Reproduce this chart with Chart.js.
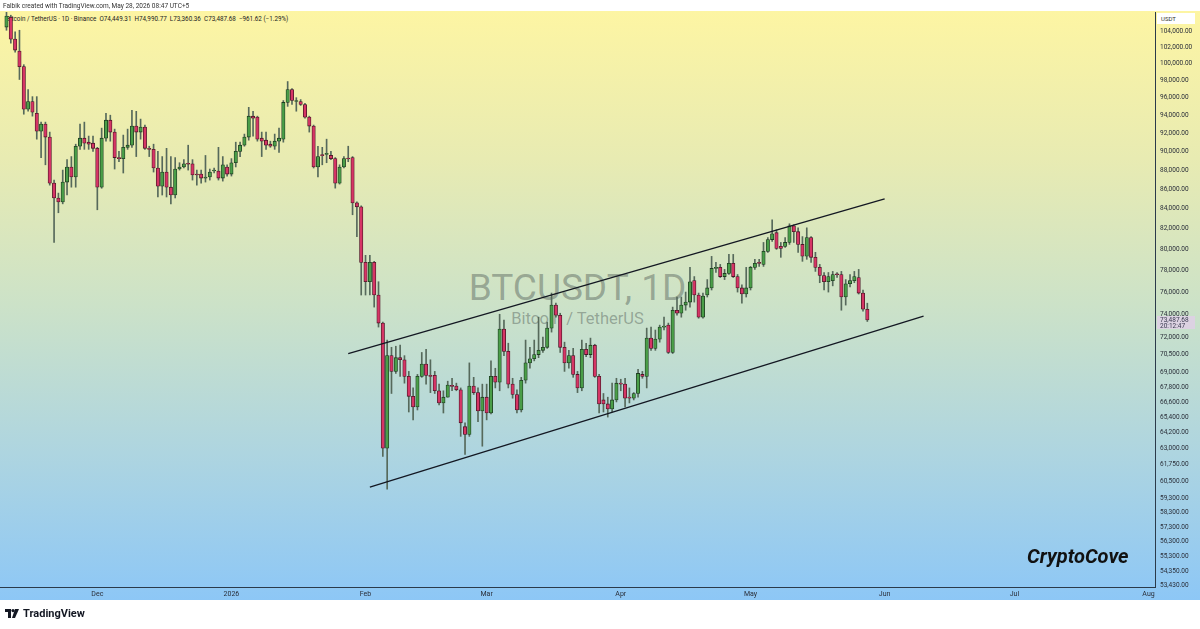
<!DOCTYPE html>
<html>
<head>
<meta charset="utf-8">
<title>BTCUSDT 1D</title>
<script src="https://cdn.jsdelivr.net/npm/chart.js@4.4.1/dist/chart.umd.min.js"></script>
<style>
  body { margin: 0; background: #fff; font-family: Roboto, "Noto Sans", sans-serif; }
  #wrap { position: relative; width: 1200px; height: 629px; overflow: hidden; background: #fff; }
  #bg { position: absolute; left: 0; top: 11px; width: 1200px; height: 589px;
        background: linear-gradient(to bottom, #fdf5a3 0%, #e8ebb2 25%, #cce2c8 50%, #aed5e0 75%, #8dc7f6 100%); }
  #chart { position: absolute; left: 0; top: 0; z-index: 3; }
  .txt { position: absolute; white-space: nowrap; line-height: 1; }
  #header { left: 3px; top: 3px; font-size: 6.5px; color: #333; z-index: 4; }
  #legend { left: 6px; top: 16px; font-size: 6.3px; color: #222; z-index: 1; }
  #wm1 { left: 0; width: 1155px; text-align: center; top: 269px; font-size: 37px; color: rgba(80, 92, 86, 0.45); z-index: 1; }
  #wm2 { left: 0; width: 1155px; text-align: center; top: 311px; font-size: 16.5px; color: rgba(80, 92, 86, 0.45); z-index: 1; }
  #brand { left: 1027px; top: 546px; font-size: 20px; font-weight: bold; font-style: italic; color: #111; z-index: 4; }
  #usdt { left: 1157px; top: 13px; width: 38px; height: 11px; background: #fff; font-size: 6px; color: #333; padding: 3px 0 0 4px; box-sizing: border-box; z-index: 4; }
  #lastp { left: 1157px; top: 316px; width: 38px; height: 13px; background: rgba(222, 208, 228, 0.9); z-index: 4; font-size: 6.5px; color: #3a3a50; padding: 1px 0 0 3px; box-sizing: border-box; line-height: 6px; }
  #logo { left: 5px; top: 608px; font-size: 11px; font-weight: bold; color: #131722; z-index: 4; display: flex; align-items: center; gap: 4px; }
</style>
</head>
<body>
<div id="wrap">
  <div id="bg"></div>
  <div class="txt" id="header">Falbik created with TradingView.com, May 28, 2026 08:47 UTC+5</div>
  <div class="txt" id="legend">Bitcoin / TetherUS · 1D · Binance &nbsp;O74,449.31 &nbsp;H74,990.77 &nbsp;L73,360.36 &nbsp;C73,487.68 &nbsp;−961.62 (−1.29%)</div>
  <div class="txt" id="wm1">BTCUSDT, 1D</div>
  <div class="txt" id="wm2">Bitcoin / TetherUS</div>
  <div class="txt" id="brand">CryptoCove</div>
  <div class="txt" id="usdt">USDT</div>
  <div class="txt" id="lastp">73,487.68<br>20:12:47</div>
  <div class="txt" id="logo">
    <svg width="14" height="9" viewBox="0 0 14 9"><rect x="0" y="0" width="6" height="3" fill="#131722"/><rect x="3" y="0" width="3" height="9" fill="#131722"/><circle cx="8" cy="1.6" r="1.6" fill="#131722"/><polygon points="10,0 14,0 10,9 7,9" fill="#131722"/></svg>
    <span>TradingView</span>
  </div>
  <canvas id="chart" width="1200" height="629"></canvas>
</div>
<script>
// Daily candles, first one on 2025-11-10 (index 1 of the time axis)
const startDay = '2025-11-09';
const dayCount = 267;
const firstCandle = 1;

const opens = [
  104500, 105750, 103000, 101530, 99650, 94670, 95560, 94220, 92220, 93000, 91560, 86630, 85100, 84700, 86740, 88330, 87270, 90560, 91440, 91000,
  90890, 90330, 86210, 91440, 93440, 92110, 89330, 89220, 90440, 90670, 92780, 92110, 92670, 90330, 90220, 88220, 86320, 87790, 86210, 85400,
  88110, 88330, 88670, 88670, 87580, 87580, 87160, 87270, 87900, 87900, 87160, 88330, 87580, 88780, 90000, 90670, 91560, 93890, 93780, 91440,
  91220, 90780, 90560, 91110, 91330, 95450, 96940, 95560, 95560, 95220, 93780, 92780, 88330, 89560, 89670, 89560, 89220, 86630, 88330, 89220,
  89330, 84600, 84200, 78760, 76950, 78760, 75730, 73220, 63000, 70410, 69090, 70240, 70060, 68680, 67050, 66200, 68680, 69710, 68760, 68760,
  67500, 66520, 66980, 67880, 67880, 67580, 64650, 64050, 67880, 67350, 65880, 66980, 65720, 68680, 68200, 72700, 70770, 68040, 67200, 65960,
  68360, 69800, 70150, 70500, 70860, 71120, 72780, 74820, 73910, 71120, 69800, 70410, 68840, 67730, 70940, 70500, 71300, 68680, 66760, 66440,
  66040, 66760, 68120, 68040, 66980, 66900, 67280, 68840, 68680, 71910, 71030, 71820, 72870, 73040, 70680, 74360, 74090, 74820, 75090, 77050,
  75730, 73740, 75730, 76380, 78190, 78290, 77430, 77720, 78670, 77430, 76380, 75820, 76380, 78290, 78760, 78570, 79810, 80950, 81620, 80290,
  80290, 80670, 82300, 81720, 80480, 79340, 81150, 79240, 78290, 77530, 76950, 77050, 77620, 77620, 75550, 76760, 77050, 77340, 75910, 74449.31
];
const highs = [
  106400, 106000, 103900, 104100, 99880, 96940, 96120, 96120, 93220, 93220, 92110, 86950, 85600, 88000, 89110, 89440, 90780, 93000, 93220, 91670,
  91670, 90440, 92550, 94220, 94000, 92440, 90000, 91780, 92440, 94560, 94440, 93560, 92890, 90560, 90780, 90000, 89440, 90330, 89440, 89330,
  88780, 89110, 90670, 89110, 88000, 88000, 89560, 88110, 88220, 90440, 89440, 88560, 89220, 91000, 91000, 91890, 94890, 94440, 93890, 92110,
  92110, 91110, 91890, 92550, 95670, 97880, 97060, 96000, 95780, 95340, 93890, 92890, 90560, 90440, 91330, 90000, 89330, 88560, 89440, 90560,
  89440, 84700, 84300, 79430, 79430, 78860, 76950, 73300, 71740, 71120, 71210, 71300, 70410, 69090, 67730, 68840, 70680, 70940, 70060, 69090,
  68040, 67500, 68280, 68520, 68120, 67730, 64950, 69800, 68600, 67730, 68040, 68040, 69970, 69350, 74000, 73480, 71470, 68520, 67580, 68600,
  71740, 71120, 71740, 73740, 72000, 73300, 75910, 75000, 74090, 71560, 70860, 71030, 69090, 71740, 71470, 71910, 71380, 68840, 67280, 66980,
  68120, 68520, 68440, 68520, 67730, 67350, 69270, 69090, 72780, 72870, 72610, 73040, 73740, 73220, 74640, 75550, 75550, 76000, 78290, 77430,
  75910, 75910, 77150, 79330, 78760, 78570, 78100, 79520, 79520, 77620, 76670, 78290, 78380, 79050, 79050, 80670, 81150, 82900, 81900, 80670,
  81150, 82500, 82400, 82100, 81240, 82100, 81240, 79720, 78570, 77810, 77810, 77910, 77810, 77910, 77150, 77620, 77910, 78100, 76190, 74990.77
];
const lows = [
  104100, 102500, 101400, 98120, 94110, 94450, 93890, 91330, 89330, 88560, 86420, 80670, 83600, 84500, 85400, 86210, 86210, 90220, 90220, 90220,
  90000, 83900, 86100, 91110, 91110, 88110, 88890, 87690, 90220, 90440, 89440, 91330, 90220, 89440, 87790, 85200, 85400, 85200, 84500, 85100,
  88000, 88220, 88000, 86950, 86420, 86630, 86740, 86950, 87690, 86950, 86840, 87370, 87370, 88330, 89440, 90560, 91220, 91670, 91110, 89440,
  90220, 90440, 90220, 89890, 91000, 95000, 95220, 94450, 95110, 93670, 92110, 88220, 87270, 88560, 88780, 89110, 86110, 86530, 88220, 88890,
  83400, 81240, 75730, 75730, 75730, 74640, 72870, 62380, 59980, 67280, 68920, 68680, 68120, 65800, 65180, 65960, 68600, 68040, 67350, 67280,
  66360, 65720, 66980, 67500, 67500, 63900, 62530, 63900, 67200, 65030, 63150, 65180, 65640, 67730, 67500, 70410, 67730, 66900, 65720, 65800,
  68120, 69360, 69970, 70240, 70680, 71030, 72430, 73740, 70680, 69090, 69360, 68600, 67350, 67500, 70320, 70240, 68600, 65720, 65800, 65400,
  65800, 66600, 67500, 66200, 66520, 66760, 66980, 68520, 67730, 70860, 70860, 71560, 72610, 70590, 70590, 73910, 73740, 74360, 74640, 75090,
  73650, 73650, 75550, 76190, 77810, 77340, 77150, 77620, 77340, 76000, 75000, 75550, 76190, 78100, 78380, 78380, 79720, 80760, 80000, 79240,
  80190, 80480, 80670, 79720, 78860, 79050, 78760, 77910, 76860, 76190, 76000, 76570, 77340, 74360, 74820, 76480, 76860, 75820, 74270, 73360.36
];
const closes = [
  105900, 103000, 101650, 99650, 94670, 95560, 94330, 92220, 93000, 91560, 86630, 85100, 84700, 86740, 88330, 87270, 90560, 91440, 90890, 90780,
  90330, 86210, 91440, 93440, 92110, 89330, 89220, 90440, 90670, 92780, 92110, 92670, 90330, 90220, 88220, 86320, 87790, 86210, 85400, 88110,
  88330, 88670, 88620, 87480, 87480, 87160, 87270, 87790, 87920, 87160, 88560, 87580, 88780, 90000, 90670, 91560, 93890, 93670, 91330, 91110,
  90670, 90560, 91110, 91440, 95450, 96940, 95670, 95600, 95220, 93780, 92780, 88330, 89440, 89540, 89700, 89220, 86630, 88330, 89220, 89180,
  84600, 84200, 78760, 76950, 78760, 75730, 73220, 63000, 70410, 69090, 70240, 70060, 68680, 67050, 66200, 68680, 69710, 68760, 68680, 67500,
  66520, 66980, 67960, 67860, 67580, 64950, 64050, 67880, 67350, 65880, 66980, 65720, 68680, 68200, 72700, 70770, 68040, 67200, 65960, 68360,
  69800, 70150, 70500, 70860, 71120, 72780, 74820, 73910, 71120, 69800, 70410, 68840, 67730, 70940, 70500, 71300, 68680, 66440, 66440, 66040,
  66760, 68120, 68040, 66900, 66900, 67280, 68920, 68680, 71910, 71030, 71820, 72870, 72960, 70680, 74360, 74090, 74820, 75090, 76950, 75730,
  73740, 75640, 76380, 78190, 78290, 77430, 77720, 78670, 77430, 76380, 75820, 76380, 78290, 78670, 78670, 79810, 80950, 81520, 80100, 80100,
  80670, 82300, 81720, 80480, 79340, 81150, 79240, 78290, 77530, 76950, 77430, 77620, 77600, 75550, 76760, 77050, 77430, 75910, 74450, 73487.68
];

// Price axis labels, as printed on the right scale
const priceTicks = [104000, 102000, 100000, 98000, 96000, 94000, 92000, 90000, 88000, 86000, 84000, 82000, 80000, 78000, 76000, 74000, 72000,
  70500, 69000, 67800, 66600, 65400, 64200, 63000, 61750, 60500, 59300, 58300, 57300, 56300, 55300, 54350, 53430];
const priceMin = 53320;
const priceMax = 106410;

// Rising channel drawn on the chart: [date, price] endpoints
const channelUpper = [['2026-01-28', 70590], ['2026-06-01', 85000]];
const channelLower = [['2026-02-02', 60120], ['2026-06-10', 73830]];

const monthNames = ['Jan', 'Feb', 'Mar', 'Apr', 'May', 'Jun', 'Jul', 'Aug', 'Sep', 'Oct', 'Nov', 'Dec'];

// Build the list of days for the time axis
function buildDays() {
    const t0 = Date.parse(startDay + 'T00:00:00Z');
    let days = [];
    for (let i = 0; i < dayCount; i++) {
        days.push(new Date(t0 + i * 86400000).toISOString().slice(0, 10));
    }
    return days;
}

const days = buildDays();

function candleAt(i) {
    const k = i - firstCandle;
    return (k >= 0 && k < closes.length) ? k : -1;
}

function monthLabel(i) {
    const d = days[i];
    if (!d || d.slice(8) !== '01') return null;
    const m = parseInt(d.slice(5, 7), 10);
    return m === 1 ? d.slice(0, 4) : monthNames[m - 1];
}

const upColor = '#4a9e48', downColor = '#d63565';
const upBorder = '#1d3b20', downBorder = '#4d1627';
const wickColor = '#56695b';

const bodies = days.map((_, i) => { const k = candleAt(i); return k < 0 ? null : [opens[k], closes[k]]; });
const wicks = days.map((_, i) => { const k = candleAt(i); return k < 0 ? null : [lows[k], highs[k]]; });
const bodyColors = days.map((_, i) => { const k = candleAt(i); return k >= 0 && closes[k] < opens[k] ? downColor : upColor; });
const bodyBorders = days.map((_, i) => { const k = candleAt(i); return k >= 0 && closes[k] < opens[k] ? downBorder : upBorder; });

const ctx = document.getElementById('chart').getContext('2d');

new Chart(ctx, {
    type: 'bar',
    data: {
        labels: days,
        datasets: [
            {
                type: 'line',
                data: channelUpper.map(p => ({ x: p[0], y: p[1] })),
                borderColor: '#131722', borderWidth: 1.3, pointRadius: 0, fill: false
            },
            {
                type: 'line',
                data: channelLower.map(p => ({ x: p[0], y: p[1] })),
                borderColor: '#131722', borderWidth: 1.3, pointRadius: 0, fill: false
            },
            {
                data: bodies,
                backgroundColor: bodyColors,
                borderColor: bodyBorders,
                borderWidth: 0.8,
                borderSkipped: false,
                barThickness: 3.4,
                minBarLength: 1,
                grouped: false
            },
            {
                data: wicks,
                backgroundColor: wickColor,
                barThickness: 1,
                grouped: false
            }
        ]
    },
    options: {
        responsive: false,
        animation: false,
        events: [],
        devicePixelRatio: window.devicePixelRatio || 1,
        layout: { padding: { top: 12, bottom: 29, left: 0, right: 0 } },
        plugins: {
            legend: { display: false },
            tooltip: { enabled: false }
        },
        scales: {
            x: {
                type: 'category',
                offset: true,
                afterFit: s => { s.height = 13; },
                grid: { display: false, drawTicks: false },
                border: { display: true, color: '#2b3a4a', width: 1 },
                ticks: {
                    autoSkip: false, maxRotation: 0, padding: 3,
                    font: { size: 7, family: 'Roboto' }, color: '#2a2e39',
                    callback: (v, i) => monthLabel(i)
                }
            },
            y: {
                type: 'logarithmic',
                position: 'right',
                bounds: 'data',
                min: priceMin,
                max: priceMax,
                afterBuildTicks: s => { s.ticks = priceTicks.map(v => ({ value: v })); },
                afterFit: s => { s.width = 45; },
                grid: { display: false, drawTicks: false },
                border: { display: true, color: '#2b3a4a', width: 1 },
                ticks: {
                    autoSkip: false, padding: 5,
                    font: { size: 6.5, family: 'Roboto' }, color: '#2a2e39',
                    callback: v => Number(v).toLocaleString('en-US', { minimumFractionDigits: 2, maximumFractionDigits: 2 })
                }
            }
        }
    }
});
</script>
</body>
</html>
